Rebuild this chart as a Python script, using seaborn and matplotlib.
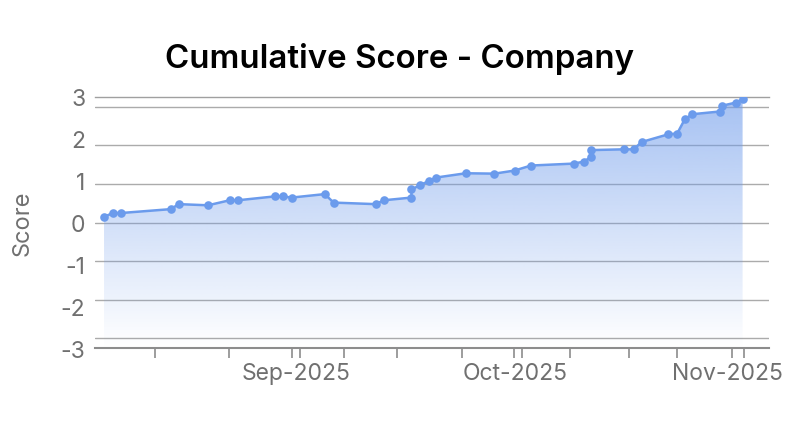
import pandas as pd
import numpy as np
import seaborn as sns
import matplotlib.pyplot as plt
import matplotlib.dates as mdates
from matplotlib.colors import to_rgb
from matplotlib.transforms import ScaledTranslation

# Data
dates = [
    "2025-08-05 17:00", "2025-08-06 22:00", "2025-08-08 01:00", "2025-08-14 20:00",
    "2025-08-15 23:00", "2025-08-19 23:00", "2025-08-22 22:00", "2025-08-24 01:00",
    "2025-08-29 02:00", "2025-08-30 05:00", "2025-08-31 10:00", "2025-09-04 23:00",
    "2025-09-06 04:00", "2025-09-11 22:00", "2025-09-13 01:00", "2025-09-16 20:00",
    "2025-09-16 20:00", "2025-09-18 00:00", "2025-09-19 05:00", "2025-09-20 06:00",
    "2025-09-24 07:00", "2025-09-28 05:00", "2025-09-30 23:00", "2025-10-03 05:00",
    "2025-10-09 01:00", "2025-10-10 10:00", "2025-10-11 09:00", "2025-10-11 09:00",
    "2025-10-15 22:00", "2025-10-17 07:00", "2025-10-18 09:00", "2025-10-22 01:00",
    "2025-10-23 06:00", "2025-10-24 07:00", "2025-10-25 08:00", "2025-10-29 02:00",
    "2025-10-29 10:00", "2025-10-31 06:00", "2025-11-01 05:00",
]
scores = [
    0.15, 0.25, 0.25, 0.35,
    0.48, 0.45, 0.58, 0.58,
    0.68, 0.68, 0.65, 0.74,
    0.52, 0.48, 0.58, 0.65,
    0.86, 0.97, 1.08, 1.17,
    1.28, 1.27, 1.35, 1.48,
    1.53, 1.58, 1.69, 1.88,
    1.90, 1.90, 2.09, 2.29,
    2.31, 2.68, 2.81, 2.88,
    3.03, 3.11, 3.20,
]

month_ticks = ["2025-09-01", "2025-10-01", "2025-11-01"]
month_labels = ["Sep-2025", "Oct-2025", "Nov-2025"]
minor_ticks = [
    "2025-08-12 16:00", "2025-08-22 20:00", "2025-08-31 11:00", "2025-09-01 13:00",
    "2025-09-07 14:00", "2025-09-14 20:00", "2025-09-23 18:00", "2025-09-30 21:00",
    "2025-10-01 23:00", "2025-10-08 13:00", "2025-10-16 15:00", "2025-10-23 05:00",
    "2025-10-30 18:00", "2025-11-01 09:00",
]
y_ticks = [-3, -2, -1, 0, 1, 2, 3]

df = pd.DataFrame({"date": pd.to_datetime(dates), "score": scores})

sns.set_theme(style="white")
plt.rcParams["font.family"] = ["Inter", "DejaVu Sans"]
plt.rcParams["axes.unicode_minus"] = False

line_color = "#6b9bec"
fill_color = "#6e9beb"
y_lo, y_hi = -3.25, 3.26

fig = plt.figure(figsize=(8, 4.31), dpi=100)
ax = fig.add_axes([0.119, 0.19, 0.842, 0.583])

sns.lineplot(data=df, x="date", y="score", ax=ax, estimator=None, sort=False,
             color=line_color, lw=1.8, marker="o", markersize=6.2,
             markeredgewidth=0, zorder=4)

# gradient fill under the line
x_num = mdates.date2num(df["date"])
poly = ax.fill_between(df["date"], df["score"], y_lo, color="none", lw=0)
grad = np.zeros((256, 1, 4))
grad[..., :3] = to_rgb(fill_color)
grad[:, 0, 3] = np.linspace(0.0, 0.62, 256)
im = ax.imshow(grad, extent=[x_num.min(), x_num.max(), y_lo, y_hi],
               aspect="auto", origin="lower", zorder=1, interpolation="bilinear")
im.set_clip_path(poly.get_paths()[0], transform=ax.transData)

start = pd.Timestamp("2025-09-01")
ax.set_xlim(mdates.date2num(start - pd.Timedelta(days=27.5)),
            mdates.date2num(start + pd.Timedelta(days=64.8)))
ax.set_ylim(y_lo, y_hi)

# grid lines at the integer values
ax.set_yticks(y_ticks)
ax.set_yticklabels([])
ax.tick_params(axis="y", length=0)
ax.grid(axis="y", color="#ababab", lw=1)
ax.grid(axis="x", visible=False)

ax.set_xticks(mdates.date2num(pd.to_datetime(month_ticks)))
ax.set_xticklabels(month_labels)
ax.set_xticks(mdates.date2num(pd.to_datetime(minor_ticks)), minor=True)
ax.tick_params(axis="x", which="major", length=0, pad=10, labelsize=16.5,
               labelcolor="#707070")
ax.tick_params(axis="x", which="minor", bottom=True, length=7, width=1.2,
               color="#8c8c8c")
ax.set_xlabel("")
ax.set_ylabel("")

# last label is pulled left like the original
nov = ax.get_xticklabels()[-1]
nov.set_transform(nov.get_transform() + ScaledTranslation(-14 / 100, 0, fig.dpi_scale_trans))

for side in ["left", "right"]:
    ax.spines[side].set_visible(False)
ax.spines["top"].set_color("#a0a0a0")
ax.spines["top"].set_linewidth(1)
ax.spines["bottom"].set_color("#8c8c8c")
ax.spines["bottom"].set_linewidth(1.5)

# y labels spread evenly over the full height
ax2 = ax.twinx()
ax2.set_ylim(-3, 3)
ax2.yaxis.tick_left()
ax2.set_yticks(y_ticks)
ax2.tick_params(axis="y", length=0, pad=7, labelsize=16.5, labelcolor="#707070")
for s in ax2.spines.values():
    s.set_visible(False)
ax2.yaxis.set_label_position("left")
ax2.set_ylabel("Score", fontsize=17, color="#707070")
ax2.yaxis.set_label_coords(-0.092, 0.5)

fig.suptitle("Cumulative Score - Company", x=0.5, y=1 - 59 / 431, va="center",
             fontsize=23.8, fontweight="semibold", color="black")

fig.savefig("out.png", dpi=100)
